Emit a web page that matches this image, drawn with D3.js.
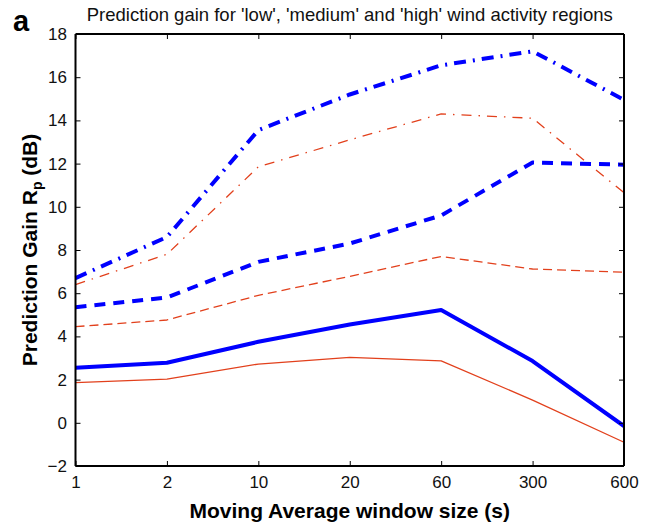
<!DOCTYPE html>
<html>
<head>
<meta charset="utf-8">
<script src="https://cdn.jsdelivr.net/npm/d3@7"></script>
<style>
  body { margin: 0; background: #fff; }
  text { font-family: "Liberation Sans", Arial, sans-serif; }
</style>
</head>
<body>
<div id="chart"></div>
<script>
// window sizes (categorical, evenly spaced)
var windowSizes = ["1", "2", "10", "20", "60", "300", "600"];
var yTicks = [-2, 0, 2, 4, 6, 8, 10, 12, 14, 16, 18];

// prediction gain (dB) per wind regime
var highBlue   = [6.7, 8.6, 13.55, 15.2, 16.55, 17.2, 14.95];
var highRed    = [6.4, 7.8, 11.85, 13.1, 14.3, 14.1, 10.65];
var mediumBlue = [5.35, 5.8, 7.45, 8.3, 9.6, 12.05, 11.95];
var mediumRed  = [4.45, 4.76, 5.9, 6.78, 7.7, 7.12, 6.97];
var lowBlue    = [2.55, 2.78, 3.75, 4.55, 5.22, 2.86, -0.15];
var lowRed     = [1.86, 2.02, 2.72, 3.03, 2.87, 1.05, -0.9];

var series = [
  { values: lowRed,     color: "#e2401c", width: 1.3, dash: null },
  { values: mediumRed,  color: "#e2401c", width: 1.3, dash: "9,5" },
  { values: highRed,    color: "#e2401c", width: 1.3, dash: "10,7,1.5,7" },
  { values: lowBlue,    color: "#0000ff", width: 4,   dash: null },
  { values: mediumBlue, color: "#0000ff", width: 4,   dash: "11,8" },
  { values: highBlue,   color: "#0000ff", width: 4,   dash: "12,7,2,7" }
];

var W = 653, H = 527;
var margin = {top: 34, right: 29, bottom: 61, left: 75.5};
var width = W - margin.left - margin.right,
    height = H - margin.top - margin.bottom;

var svg = d3.select("#chart").append("svg")
    .attr("width", W)
    .attr("height", H);

var g = svg.append("g")
    .attr("transform", "translate(" + margin.left + "," + margin.top + ")");

var x = d3.scalePoint()
    .domain(windowSizes)
    .range([0, width]);

var y = d3.scaleLinear()
    .domain([-2, 18])
    .range([height, 0]);

// lines
var line = d3.line()
    .x(function(d, i) { return x(windowSizes[i]); })
    .y(function(d) { return y(d); });

g.append("clipPath").attr("id", "clip")
  .append("rect").attr("x", -1).attr("y", -1).attr("width", width + 2).attr("height", height + 2);

g.append("g").attr("clip-path", "url(#clip)")
  .selectAll("path")
  .data(series)
  .enter().append("path")
    .attr("d", function(d) { return line(d.values); })
    .attr("fill", "none")
    .attr("stroke", function(d) { return d.color; })
    .attr("stroke-width", function(d) { return d.width; })
    .attr("stroke-dasharray", function(d) { return d.dash; })
    .attr("stroke-linejoin", "round");

// axes with inward ticks (box style)
var axBottom = g.append("g")
    .attr("transform", "translate(0," + height + ")")
    .call(d3.axisBottom(x).tickSize(-5).tickPadding(10));
var axLeft = g.append("g")
    .call(d3.axisLeft(y).tickValues(yTicks).tickSize(-5).tickPadding(8.5)
      .tickFormat(function(d) { return d < 0 ? "\u2212" + Math.abs(d) : d; }));
var axTop = g.append("g")
    .call(d3.axisTop(x).tickSize(-5).tickFormat(""));
var axRight = g.append("g")
    .attr("transform", "translate(" + width + ",0)")
    .call(d3.axisRight(y).tickValues(yTicks).tickSize(-5).tickFormat(""));

[axBottom, axLeft, axTop, axRight].forEach(function(a) {
  a.select(".domain").attr("stroke", "#000").attr("stroke-width", 2);
  a.selectAll(".tick line").attr("stroke", "#000").attr("stroke-width", 1);
  a.selectAll("text").attr("font-size", 17).attr("fill", "#111")
    .style("font-family", "'Liberation Sans', Arial, sans-serif");
});
axTop.select(".domain").attr("d", "M0,0H" + width);
axRight.select(".domain").attr("d", "M0,0V" + height);
axBottom.select(".domain").attr("d", "M0,0H" + width);
axLeft.select(".domain").attr("d", "M0," + height + "V0");

// titles
svg.append("text")
    .attr("x", margin.left + width / 2).attr("y", 20.7)
    .attr("text-anchor", "middle")
    .attr("font-size", 18.5)
    .attr("fill", "#111")
    .text("Prediction gain for 'low', 'medium' and 'high' wind activity regions");

svg.append("text")
    .attr("x", 13).attr("y", 30.7)
    .attr("font-size", 29)
    .attr("font-weight", "bold")
    .text("a");

svg.append("text")
    .attr("x", margin.left + width / 2).attr("y", 518)
    .attr("text-anchor", "middle")
    .attr("font-size", 21)
    .attr("font-weight", "bold")
    .text("Moving Average window size (s)");

var yl = svg.append("text")
    .attr("transform", "translate(37," + (margin.top + height / 2) + ") rotate(-90)")
    .attr("text-anchor", "middle")
    .attr("font-size", 21)
    .attr("font-weight", "bold");
yl.append("tspan").text("Prediction Gain R");
yl.append("tspan").attr("font-size", 14).attr("dy", 5).text("p");
yl.append("tspan").attr("dy", -5).text(" (dB)");
</script>
</body>
</html>
